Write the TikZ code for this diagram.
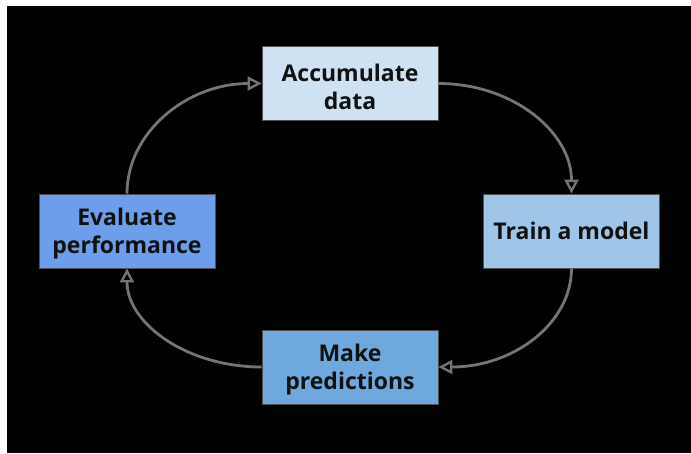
\documentclass[tikz,border=0pt]{standalone}
\usepackage{fontspec}
\setmainfont{Open Sans}
\usetikzlibrary{arrows.meta}
\definecolor{accfill}{HTML}{CFE2F3}
\definecolor{trainfill}{HTML}{9FC5E8}
\definecolor{makefill}{HTML}{6FA8DC}
\definecolor{evalfill}{HTML}{6D9EEB}
\definecolor{boxline}{HTML}{505050}
\definecolor{arrowgray}{HTML}{747474}
\definecolor{txt}{HTML}{111111}
\tikzset{
  stepbox/.style={draw=boxline, line width=0.8pt, minimum width=176pt, minimum height=74pt,
    inner sep=0pt, align=center, text=txt, font=\fontsize{23}{28}\selectfont\bfseries},
  twoline/.style={label={[align=center, text=txt, font=\fontsize{23}{28}\selectfont\bfseries, yshift=-3pt]center:#1}},
  flow/.style={draw=arrowgray, line width=2.8pt, -{Triangle[open, length=14pt, width=14pt, line width=2.4pt]}}
}
\begin{document}
\begin{tikzpicture}[x=1pt, y=-1pt]
\fill[white] (0,0) rectangle (691,453);
\fill[black] (7,6) rectangle (691,453);
\useasboundingbox (0,0) rectangle (691,453);
\node[stepbox, fill=accfill, twoline={Accumulate\\data}] (acc) at (350,83.5) {};
\node[stepbox, fill=trainfill] (train) at (571.5,231) {Train a model};
\node[stepbox, fill=makefill, twoline={Make\\predictions}] (make) at (350,367) {};
\node[stepbox, fill=evalfill, twoline={Evaluate\\performance}] (eval) at (127,231) {};
\draw[flow] (eval.north) .. controls +(0,-61) and +(-75,0) .. (acc.west);
\draw[flow] (acc.east) .. controls +(75,0) and +(0,-61) .. (train.north);
\draw[flow] (train.south) .. controls +(0,55) and +(75,0) .. (make.east);
\draw[flow] (make.west) .. controls +(-75,0) and +(0,55) .. (eval.south);
\end{tikzpicture}
\end{document}
